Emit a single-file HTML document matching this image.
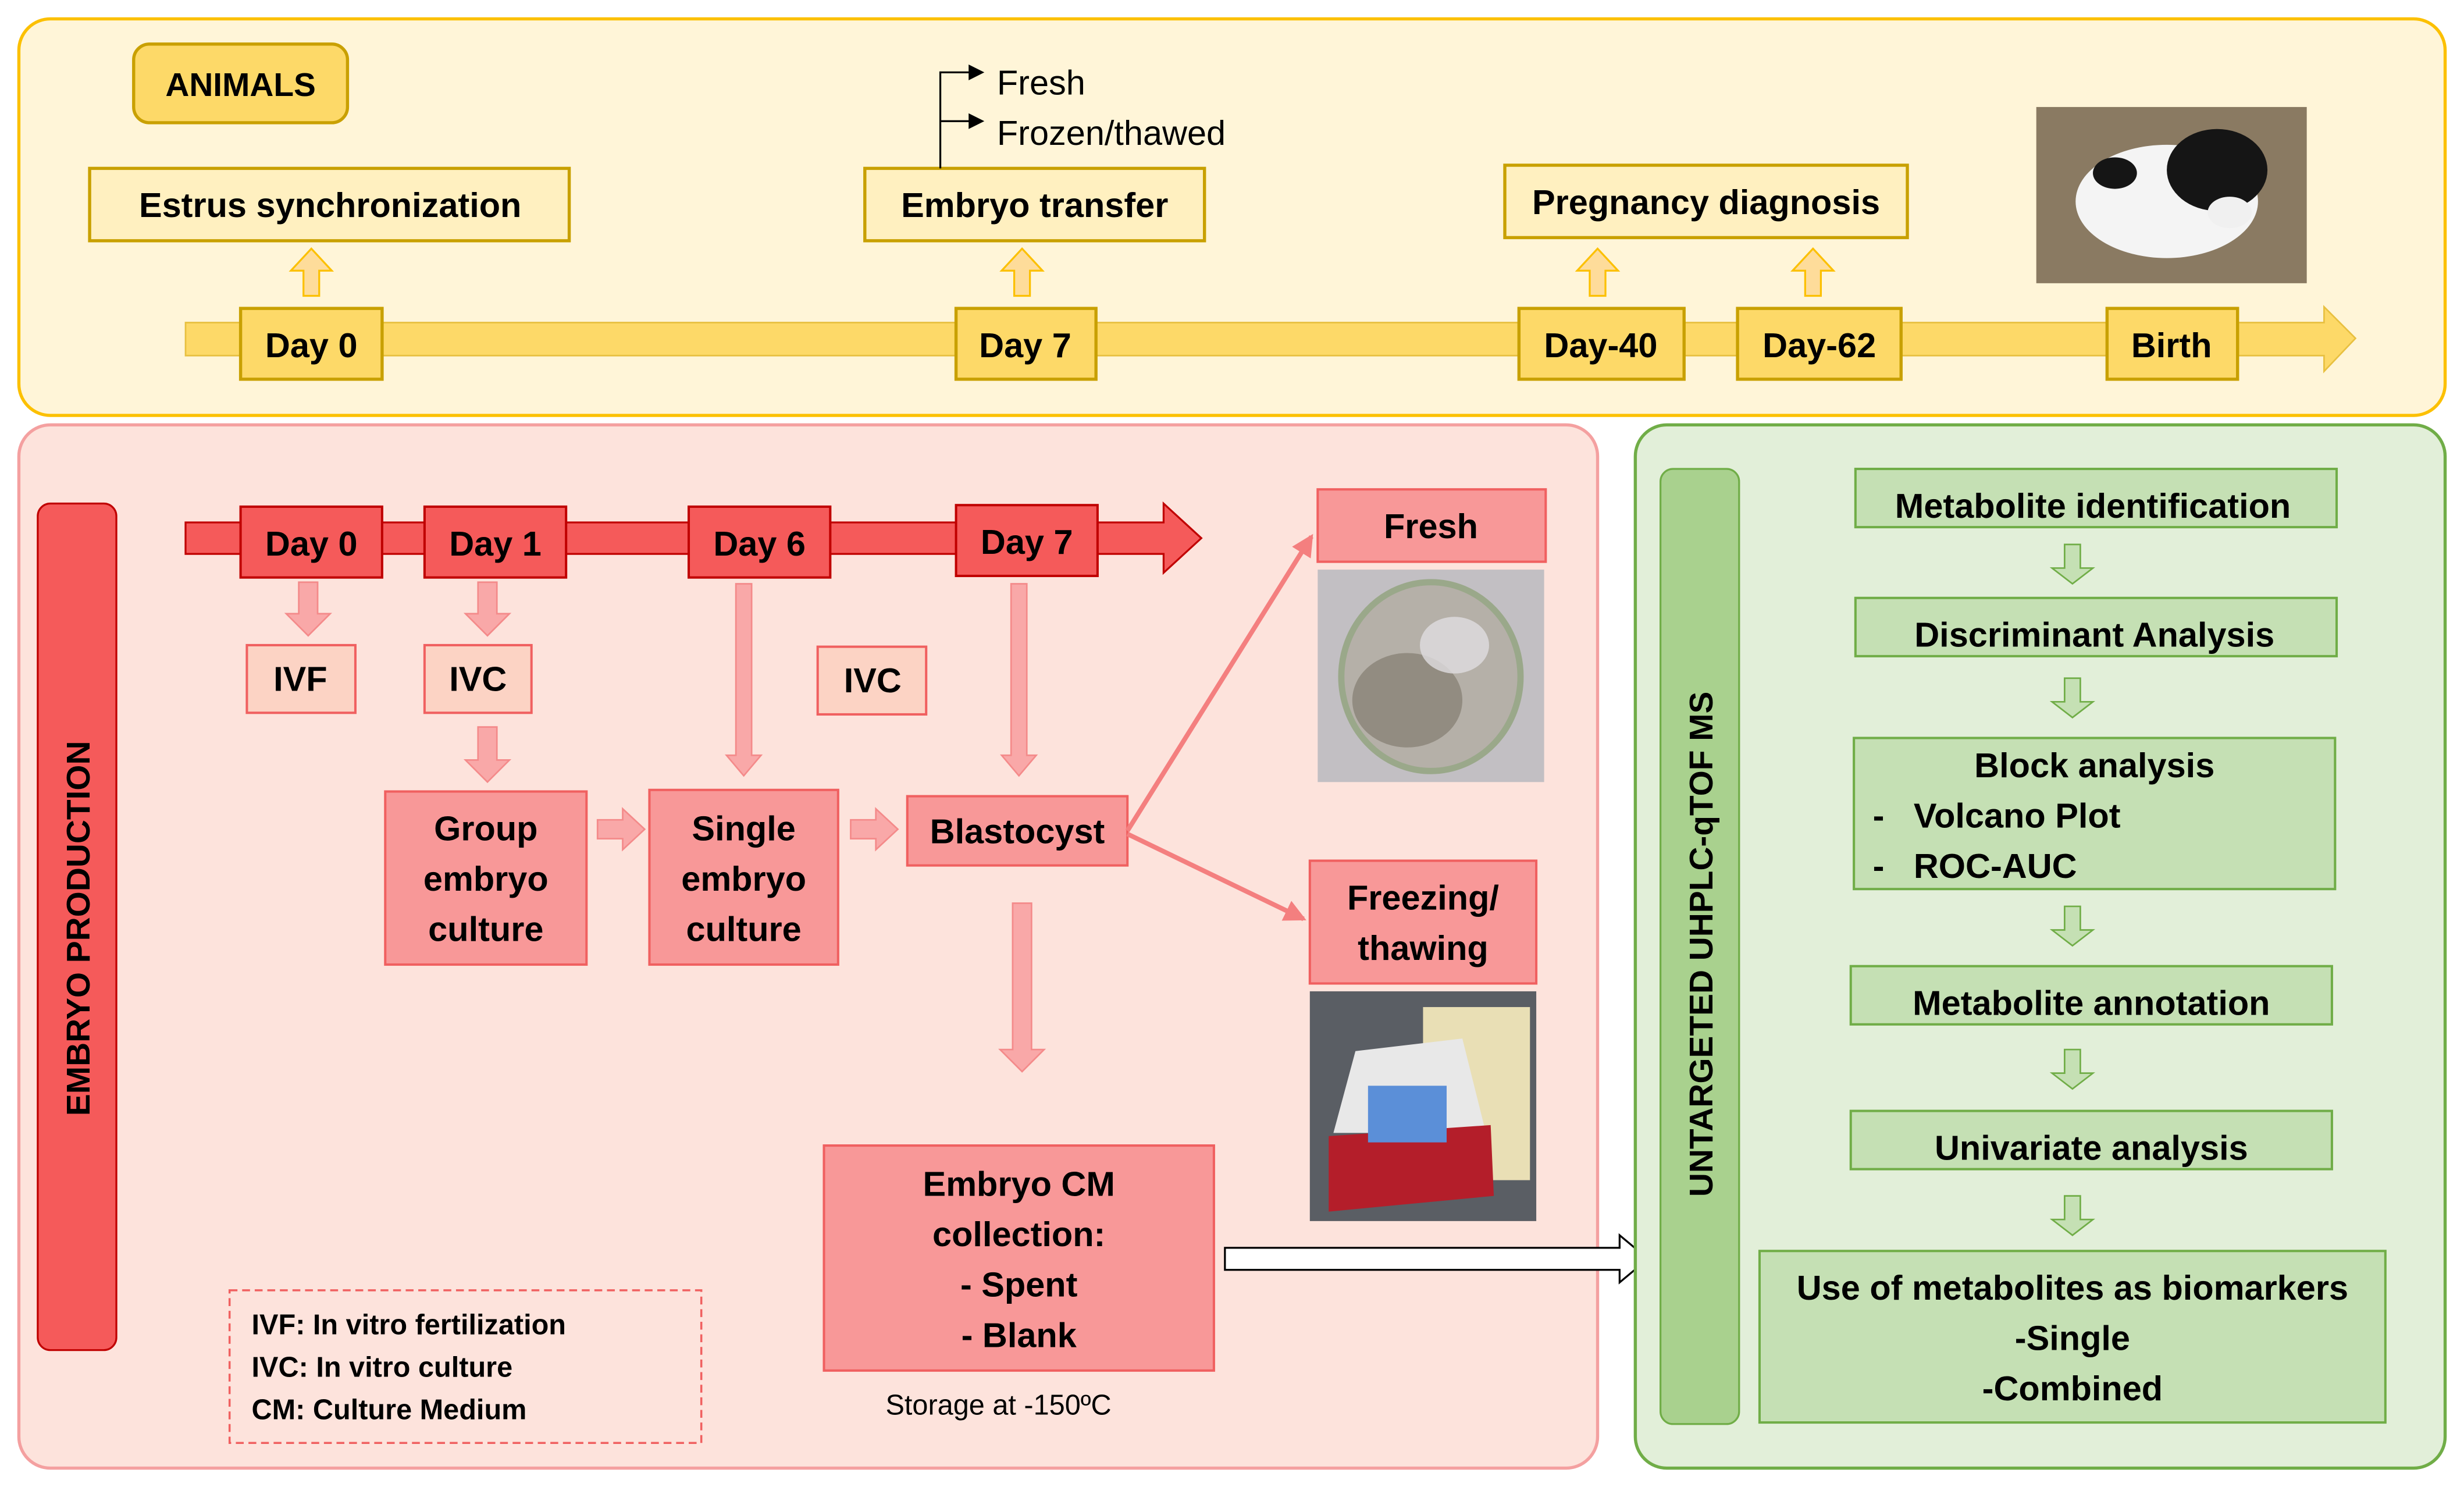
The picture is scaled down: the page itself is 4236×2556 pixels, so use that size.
<!DOCTYPE html>
<html><head><meta charset="utf-8"><style>
html,body{margin:0;padding:0;background:#fff;}
svg{display:block;}
text{font-family:"Liberation Sans",sans-serif;}
.b{font-weight:bold;fill:#000;}
</style></head><body>
<svg width="4236" height="2556" viewBox="0 0 1567 945" preserveAspectRatio="none" xmlns="http://www.w3.org/2000/svg">
<defs>
<marker id="ap" markerWidth="14" markerHeight="14" refX="12" refY="7" orient="auto" markerUnits="userSpaceOnUse"><path d="M0,0 L14,7 L0,14 z" fill="#f47f7f"/></marker>
</defs>
<!-- TOP PANEL -->
<rect x="12" y="12" width="1543" height="252" rx="20" fill="#fff5d8" stroke="#fcc000" stroke-width="2"/>
<rect x="85" y="28" width="136" height="50" rx="10" fill="#fdd968" stroke="#c9a000" stroke-width="2"/>
<text x="153" y="61" text-anchor="middle" class="b" font-size="21">ANIMALS</text>
<rect x="57" y="107" width="305" height="46" fill="#fff0c0" stroke="#c8a000" stroke-width="2"/>
<text x="210" y="138" text-anchor="middle" class="b" font-size="22">Estrus synchronization</text>
<rect x="550" y="107" width="216" height="46" fill="#fff0c0" stroke="#c8a000" stroke-width="2"/>
<text x="658" y="138" text-anchor="middle" class="b" font-size="22">Embryo transfer</text>
<rect x="957" y="105" width="256" height="46" fill="#fff0c0" stroke="#c8a000" stroke-width="2"/>
<text x="1085" y="136" text-anchor="middle" class="b" font-size="22">Pregnancy diagnosis</text>
<path d="M598,107 V46 H624 M598,77 H624" stroke="#000" stroke-width="1.2" fill="none"/>
<path d="M616,41 L626,46 L616,51 z M616,72 L626,77 L616,82 z" fill="#000"/>
<text x="634" y="60" font-size="22" fill="#000">Fresh</text>
<text x="634" y="92" font-size="22" fill="#000">Frozen/thawed</text>
<path d="M118,205 H1478 V195 L1498,215 L1478,236 V226 H118 z" fill="#fdd968" stroke="#e8c040" stroke-width="1"/>
<g fill="#fedc9a" stroke="#fcc000" stroke-width="1.2">
<path d="M193,188 V172 H185 L198,158 L211,172 H203 V188 z"/>
<path d="M645,188 V172 H637 L650,158 L663,172 H655 V188 z"/>
<path d="M1011,188 V172 H1003 L1016,158 L1029,172 H1021 V188 z"/>
<path d="M1148,188 V172 H1140 L1153,158 L1166,172 H1158 V188 z"/>
</g>
<g fill="#fdd968" stroke="#c8a000" stroke-width="2">
<rect x="153" y="196" width="90" height="45"/><rect x="608" y="196" width="89" height="45"/>
<rect x="966" y="196" width="105" height="45"/><rect x="1105" y="196" width="104" height="45"/>
<rect x="1340" y="196" width="83" height="45"/>
</g>
<g class="b" font-size="22" text-anchor="middle">
<text x="198" y="227">Day 0</text><text x="652" y="227">Day 7</text>
<text x="1018" y="227">Day-40</text><text x="1157" y="227">Day-62</text><text x="1381" y="227">Birth</text>
</g>
<!-- calf photo -->
<rect x="1295" y="68" width="172" height="112" fill="#8a7a62"/>
<ellipse cx="1378" cy="128" rx="58" ry="36" fill="#f4f4f4"/>
<ellipse cx="1410" cy="108" rx="32" ry="26" fill="#151515"/>
<ellipse cx="1345" cy="110" rx="14" ry="10" fill="#151515"/>
<ellipse cx="1418" cy="135" rx="14" ry="10" fill="#f0f0f0"/>
<!-- MIDDLE PANEL -->
<rect x="12" y="270" width="1004" height="663" rx="20" fill="#fde3dc" stroke="#f4a0a0" stroke-width="2"/>
<rect x="24" y="320" width="50" height="538" rx="8" fill="#f55a5a" stroke="#c00000" stroke-width="1.2"/>
<text transform="translate(57,590) rotate(-90)" text-anchor="middle" class="b" font-size="21">EMBRYO PRODUCTION</text>
<path d="M118,332 H740 V320 L764,342 L740,364 V352 H118 z" fill="#f55a5a" stroke="#c00000" stroke-width="1.2"/>
<g fill="#f55a5a" stroke="#c00000" stroke-width="1.5">
<rect x="153" y="322" width="90" height="45"/><rect x="270" y="322" width="90" height="45"/>
<rect x="438" y="322" width="90" height="45"/><rect x="608" y="321" width="90" height="45"/>
</g>
<g class="b" font-size="22" text-anchor="middle">
<text x="198" y="353">Day 0</text><text x="315" y="353">Day 1</text><text x="483" y="353">Day 6</text><text x="653" y="352">Day 7</text>
</g>
<g fill="#f9a8a8" stroke="#f48a8a" stroke-width="1">
<path d="M190,370 V390 H182 L196,404 L210,390 H202 V370 z"/>
<path d="M304,370 V390 H296 L310,404 L324,390 H316 V370 z"/>
<path d="M304,462 V483 H296 L310,497 L324,483 H316 V462 z"/>
<path d="M468,371 V480 H462 L473,493 L484,480 H478 V371 z"/>
<path d="M643,371 V480 H637 L648,493 L659,480 H653 V371 z"/>
<path d="M380,521 H396 V514 L410,527 L396,540 V533 H380 z"/>
<path d="M541,521 H557 V514 L571,527 L557,540 V533 H541 z"/>
<path d="M644,574 V667 H636 L650,681 L664,667 H656 V574 z"/>
</g>
<g fill="#fcd3c4" stroke="#f06060" stroke-width="1.5">
<rect x="157" y="410" width="69" height="43"/><rect x="270" y="410" width="68" height="43"/><rect x="520" y="411" width="69" height="43"/>
</g>
<g class="b" font-size="22" text-anchor="middle">
<text x="191" y="439">IVF</text><text x="304" y="439">IVC</text><text x="555" y="440">IVC</text>
</g>
<g fill="#f89898" stroke="#f06060" stroke-width="1.5">
<rect x="245" y="503" width="128" height="110"/><rect x="413" y="502" width="120" height="111"/>
<rect x="577" y="506" width="140" height="44"/><rect x="524" y="728" width="248" height="143"/>
<rect x="838" y="311" width="145" height="46"/><rect x="833" y="547" width="144" height="78"/>
</g>
<g class="b" font-size="22" text-anchor="middle">
<text x="309" y="534">Group</text><text x="309" y="566">embryo</text><text x="309" y="598">culture</text>
<text x="473" y="534">Single</text><text x="473" y="566">embryo</text><text x="473" y="598">culture</text>
<text x="647" y="536">Blastocyst</text>
<text x="648" y="760">Embryo CM</text><text x="648" y="792">collection:</text><text x="648" y="824">- Spent</text><text x="648" y="856">- Blank</text>
<text x="910" y="342">Fresh</text>
<text x="905" y="578">Freezing/</text><text x="905" y="610">thawing</text>
</g>
<text x="635" y="899" text-anchor="middle" font-size="18" fill="#000">Storage at -150ºC</text>
<path d="M717,528 L834,341" stroke="#f47f7f" stroke-width="3" marker-end="url(#ap)"/>
<path d="M717,530 L829,584" stroke="#f47f7f" stroke-width="3" marker-end="url(#ap)"/>
<!-- embryo image -->
<rect x="838" y="362" width="144" height="135" fill="#c2bfc3"/>
<ellipse cx="910" cy="430" rx="57" ry="60" fill="#b5b0a8" stroke="#9aa88a" stroke-width="4"/>
<ellipse cx="895" cy="445" rx="35" ry="30" fill="#7b7468" opacity="0.6"/>
<ellipse cx="925" cy="410" rx="22" ry="18" fill="#e0dde0" opacity="0.8"/>
<!-- freezer image -->
<rect x="833" y="630" width="144" height="146" fill="#5a5e64"/>
<rect x="905" y="640" width="68" height="110" fill="#e9dfb5"/>
<path d="M848,720 L862,668 L930,660 L945,720 z" fill="#e8e8e8"/>
<path d="M845,722 L948,715 L950,760 L845,770 z" fill="#b41e2a"/>
<rect x="870" y="690" width="50" height="36" fill="#5b8fd8"/>
<!-- legend -->
<rect x="146" y="820" width="300" height="97" fill="none" stroke="#f06060" stroke-width="1.3" stroke-dasharray="5,3"/>
<g class="b" font-size="18">
<text x="160" y="848">IVF: In vitro fertilization</text><text x="160" y="875">IVC: In vitro culture</text><text x="160" y="902">CM: Culture Medium</text>
</g>
<path d="M779,793 H1030 V785 L1048,800 L1030,815 V807 H779 z" fill="#fff" stroke="#000" stroke-width="1.2"/>
<!-- RIGHT PANEL -->
<rect x="1040" y="270" width="515" height="663" rx="20" fill="#e2efd9" stroke="#70ad47" stroke-width="2"/>
<rect x="1056" y="298" width="50" height="607" rx="8" fill="#a9d18e" stroke="#70ad47" stroke-width="1.2"/>
<text transform="translate(1089,600) rotate(-90)" text-anchor="middle" class="b" font-size="21">UNTARGETED UHPLC-qTOF MS</text>
<g fill="#c5e0b4" stroke="#70ad47" stroke-width="1.5">
<rect x="1180" y="298" width="306" height="37"/><rect x="1180" y="380" width="306" height="37"/>
<rect x="1179" y="469" width="306" height="96"/><rect x="1177" y="614" width="306" height="37"/>
<rect x="1177" y="706" width="306" height="37"/><rect x="1119" y="795" width="398" height="109"/>
</g>
<g fill="#c5e0b4" stroke="#70ad47" stroke-width="1">
<path d="M1313,346 V361 H1305 L1318,371 L1331,361 H1323 V346 z"/>
<path d="M1313,431 V446 H1305 L1318,456 L1331,446 H1323 V431 z"/>
<path d="M1313,576 V591 H1305 L1318,601 L1331,591 H1323 V576 z"/>
<path d="M1313,667 V682 H1305 L1318,692 L1331,682 H1323 V667 z"/>
<path d="M1313,760 V775 H1305 L1318,785 L1331,775 H1323 V760 z"/>
</g>
<g class="b" font-size="22" text-anchor="middle">
<text x="1331" y="329">Metabolite identification</text>
<text x="1332" y="411">Discriminant Analysis</text>
<text x="1332" y="494">Block analysis</text>
<text x="1330" y="645">Metabolite annotation</text>
<text x="1330" y="737">Univariate analysis</text>
<text x="1318" y="826">Use of metabolites as biomarkers</text>
<text x="1318" y="858">-Single</text>
<text x="1318" y="890">-Combined</text>
</g>
<g class="b" font-size="22">
<text x="1191" y="526">-</text><text x="1217" y="526">Volcano Plot</text>
<text x="1191" y="558">-</text><text x="1217" y="558">ROC-AUC</text>
</g>
</svg>
</body></html>
